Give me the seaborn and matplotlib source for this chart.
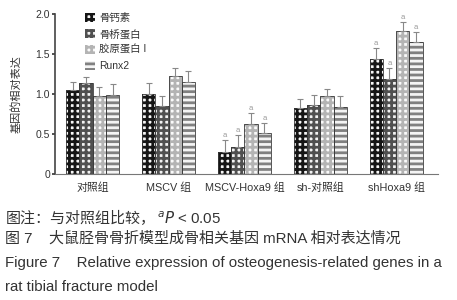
import numpy as np
import pandas as pd
import matplotlib
matplotlib.use('Agg')
import matplotlib.pyplot as plt
from matplotlib.patches import Patch, Rectangle
import seaborn as sns

# 데이터
groups = ['对照组', 'MSCV 组', 'MSCV-Hoxa9 组', 'sh-对照组', 'shHoxa9 组']
genes = ['骨钙素', '骨桥蛋白', '胶原蛋白 I', 'Runx2']
ocn = [1.05, 1.00, 0.28, 0.82, 1.43]
opn = [1.13, 0.85, 0.34, 0.86, 1.19]
col1 = [0.97, 1.22, 0.62, 0.97, 1.78]
runx2 = [0.99, 1.15, 0.51, 0.84, 1.65]
ocn_sd = [0.10, 0.13, 0.14, 0.12, 0.14]
opn_sd = [0.08, 0.12, 0.15, 0.12, 0.13]
col1_sd = [0.12, 0.10, 0.14, 0.09, 0.12]
runx2_sd = [0.13, 0.13, 0.13, 0.13, 0.12]
sig = [False, False, True, False, True]

means = [ocn, opn, col1, runx2]
sds = [ocn_sd, opn_sd, col1_sd, runx2_sd]
df = pd.DataFrame({
    'group': groups * 4,
    'gene': [g for g in genes for _ in groups],
    'value': ocn + opn + col1 + runx2,
})

sns.set_style('ticks')
plt.rcParams['font.family'] = ['Liberation Sans', 'Noto Sans CJK SC', 'DejaVu Sans']
plt.rcParams['hatch.linewidth'] = 2.0

# (면색, 해치색, 해치) - 흰 칸 + 진한 격자
styles = [('#f6f6f6', '#151515', '+++'),
          ('#f2f2f2', '#505050', '+++'),
          ('#fafafa', '#b4b4b4', '+++'),
          ('#f4f4f4', '#808080', '---')]

fig = plt.figure(figsize=(4.57, 3.0), dpi=100)
ax = fig.add_axes([0.12, 0.42, 0.838, 0.535])
sns.barplot(data=df, x='group', y='value', hue='gene', order=groups, hue_order=genes,
            width=0.7, errorbar=None, ax=ax, legend=False)

bar_conts = list(ax.containers)
for i, cont in enumerate(bar_conts):
    face, hcol, hatch = styles[i]
    for j, bar in enumerate(cont):
        bar.set_facecolor(face)
        bar.set_edgecolor(hcol)
        bar.set_hatch(hatch)
        bar.set_linewidth(0)
        x0, y0 = bar.get_xy()
        w, h = bar.get_width(), bar.get_height()
        ax.add_patch(Rectangle((x0, y0), w, h, fill=False, edgecolor='#3a3a3a', lw=0.6))
        cx = x0 + w / 2
        ax.errorbar(cx, h, yerr=[[0], [sds[i][j]]], fmt='none', ecolor='#888888',
                    elinewidth=0.8, capsize=2, capthick=0.8)
        if sig[j]:
            ax.text(cx, h + sds[i][j] + 0.01, 'a', ha='center', va='bottom',
                    fontsize=5.5, color='#999999')

ax.set_xlim(-0.5, 4.55)
ax.set_ylim(0, 2.0)
ax.set_yticks([0, 0.5, 1.0, 1.5, 2.0])
ax.set_yticklabels(['0', '0.5', '1.0', '1.5', '2.0'])
ax.set_xlabel('')
ax.set_ylabel('基因的相对表达', fontsize=8, color='#333333', labelpad=10)
ax.tick_params(axis='y', labelsize=7.5, length=2.5, width=1.2, colors='#333333', pad=1)
ax.tick_params(axis='x', labelsize=7.8, length=0, colors='#333333', pad=6)
sns.despine(ax=ax)
ax.spines['left'].set_color('#444444')
ax.spines['left'].set_linewidth(1.2)
ax.spines['bottom'].set_color('#777777')

handles = [Patch(facecolor=f, edgecolor=c, hatch=h, lw=0) for f, c, h in styles]
ax.legend(handles, genes, loc='upper left', bbox_to_anchor=(0.055, 1.06), frameon=False,
          fontsize=7.5, handlelength=0.9, handleheight=0.9, handletextpad=0.4,
          labelspacing=0.55, labelcolor='#333333')

txt = '#333333'
fs = 10.8
t1 = fig.text(0.012, 0.272, '图注：与对照组比较，', fontsize=fs, color=txt, va='center')
fig.canvas.draw()
bb = t1.get_window_extent()
fig.text(bb.x1 / fig.bbox.width + 0.003, 0.272, '$^{a}$$\\it{P}$ < 0.05', fontsize=fs,
         color=txt, va='center')
fig.text(0.012, 0.205, '图 7    大鼠胫骨骨折模型成骨相关基因 mRNA 相对表达情况',
         fontsize=fs, color=txt, va='center')
fig.text(0.012, 0.124, 'Figure 7    Relative expression of osteogenesis-related genes in a',
         fontsize=fs, color=txt, va='center')
fig.text(0.012, 0.043, 'rat tibial fracture model', fontsize=fs, color=txt, va='center')

fig.savefig('out.png', dpi=100)
